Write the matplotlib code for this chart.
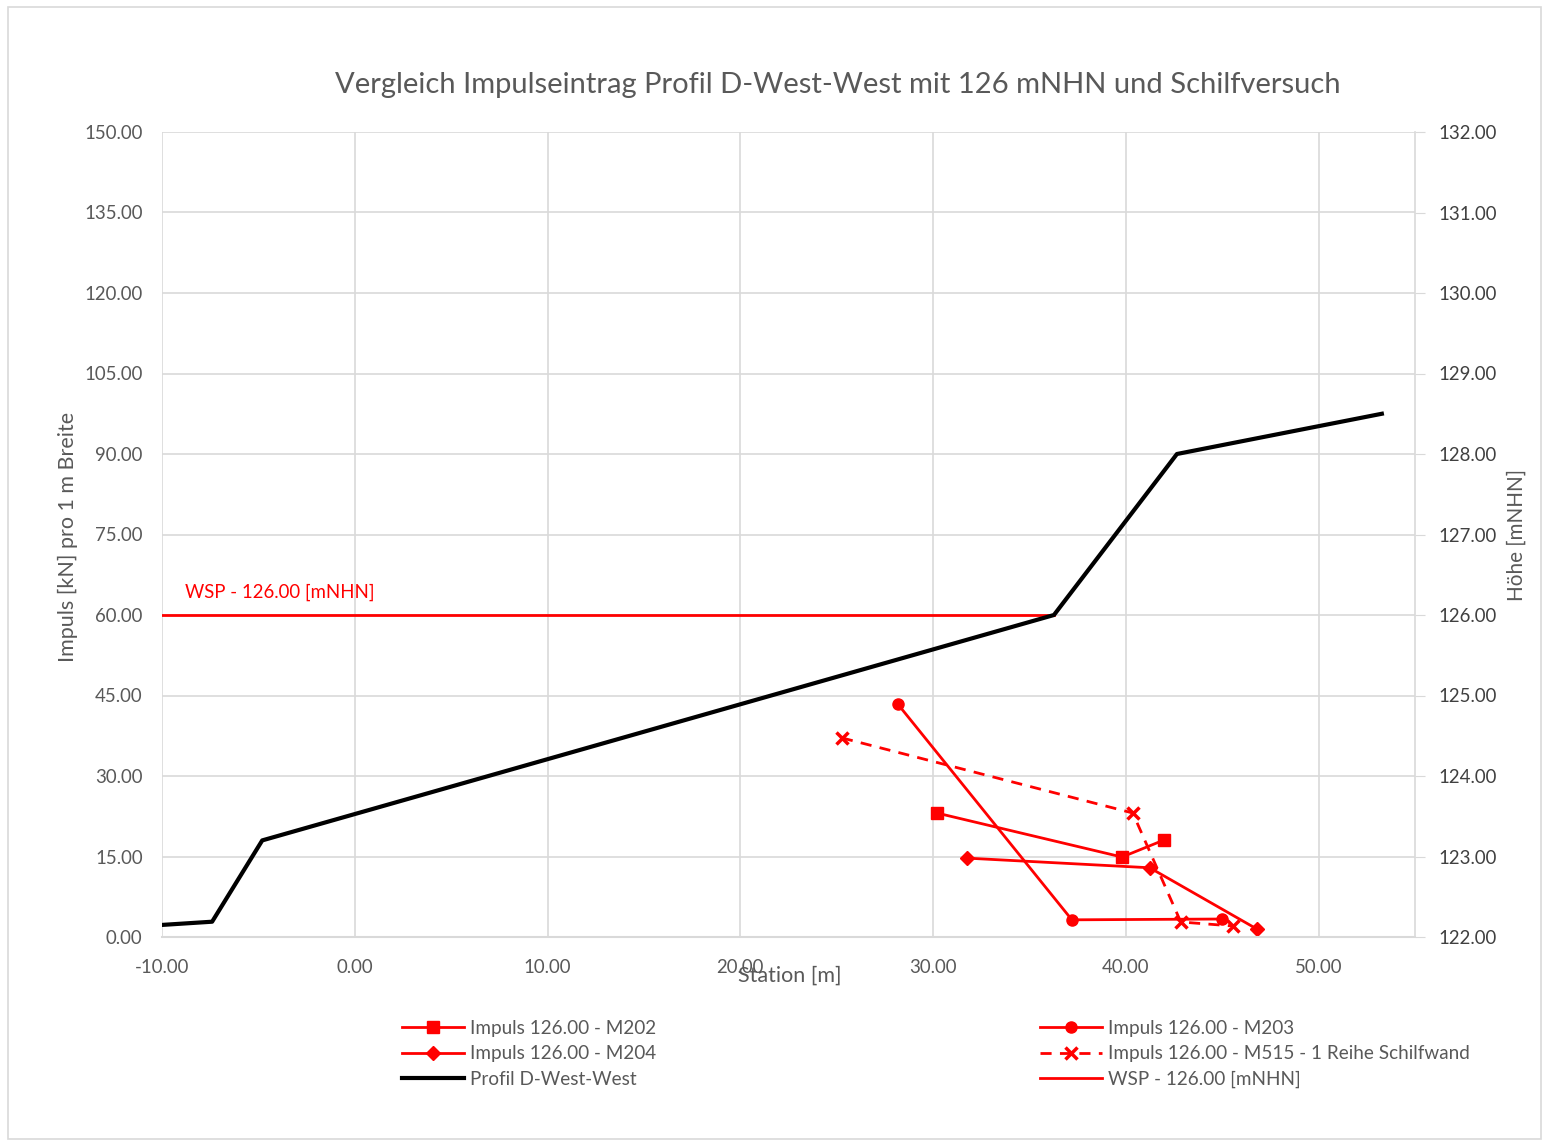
import matplotlib
matplotlib.use("Agg")
import matplotlib.pyplot as plt
from matplotlib.patches import Rectangle

plt.rcParams['font.family'] = ['Lato', 'DejaVu Sans']

# Profil D-West-West (Hoehe, rechte Achse)
profil_x = [-10.0, -7.4, -4.8, 36.27, 42.65, 53.28]
profil_y = [122.15, 122.19, 123.2, 126.0, 128.0, 128.5]

# Wasserspiegel
wsp_x = [-10.0, 36.27]
wsp_y = [126.0, 126.0]

# Impulse (linke Achse)
m202_x = [30.2, 39.8, 42.0]
m202_y = [23.1, 14.9, 18.1]
m203_x = [28.17, 37.2, 44.98]
m203_y = [43.4, 3.2, 3.35]
m204_x = [31.75, 41.24, 46.79]
m204_y = [14.7, 12.9, 1.5]
m515_x = [25.27, 40.36, 42.85, 45.55]
m515_y = [37.1, 23.1, 2.8, 2.05]

x_ticks = [-10, 0, 10, 20, 30, 40, 50]
y_ticks = [0, 15, 30, 45, 60, 75, 90, 105, 120, 135, 150]
y2_ticks = [122, 123, 124, 125, 126, 127, 128, 129, 130, 131, 132]

grey = '#595959'
red = '#ff0000'
gridc = '#d9d9d9'

fig = plt.figure(figsize=(15.49, 11.46), dpi=100)
fig.patches.append(Rectangle((8 / 1549, 1 - 1139 / 1146), 1533 / 1549, 1132 / 1146,
                             transform=fig.transFigure, fill=False,
                             edgecolor=gridc, linewidth=1.2))

ax = fig.add_axes([162 / 1549, 1 - 937 / 1146, 1253 / 1549, 805 / 1146])
ax2 = ax.twinx()

ax.set_xlim(-10, 55)
ax.set_ylim(0, 150)
ax2.set_ylim(122, 132)
ax.set_xticks(x_ticks)
ax.set_yticks(y_ticks)
ax2.set_yticks(y2_ticks)
ax.set_xticklabels([f"{v:.2f}" for v in x_ticks])
ax.set_yticklabels([f"{v:.2f}" for v in y_ticks])
ax2.set_yticklabels([f"{v:.2f}" for v in y2_ticks])

ax.grid(True, color=gridc, linewidth=1.2)
ax.set_axisbelow(True)
for a in (ax, ax2):
    for s in a.spines.values():
        s.set_visible(False)
ax2.spines['right'].set_visible(True)
ax2.spines['right'].set_color(gridc)
ax2.spines['right'].set_linewidth(1.2)
ax.spines['bottom'].set_visible(True)
ax.spines['bottom'].set_color(gridc)
ax.spines['bottom'].set_linewidth(1.5)

ax.tick_params(axis='x', length=0, pad=16, labelsize=13.4, labelcolor=grey)
ax.tick_params(axis='y', length=0, pad=14, labelsize=13.4, labelcolor=grey)
ax2.tick_params(axis='y', length=7, color=gridc, pad=10, labelsize=13.4, labelcolor='#404040')

ax.set_xlabel("Station [m]", fontsize=15.5, color=grey)
ax.xaxis.set_label_coords(0.501, -0.036)

l202, = ax.plot(m202_x, m202_y, color=red, lw=2, marker='s', ms=8, label="Impuls 126.00 - M202")
l203, = ax.plot(m203_x, m203_y, color=red, lw=2, marker='o', ms=8, label="Impuls 126.00 - M203")
l204, = ax.plot(m204_x, m204_y, color=red, lw=2, marker='D', ms=7, label="Impuls 126.00 - M204")
l515, = ax.plot(m515_x, m515_y, color=red, lw=2, ls=(0, (4, 3)), marker='x', ms=8, mew=2.5,
                label="Impuls 126.00 - M515 - 1 Reihe Schilfwand")

lwsp, = ax2.plot(wsp_x, wsp_y, color=red, lw=2, label="WSP - 126.00 [mNHN]")
lprof, = ax2.plot(profil_x, profil_y, color='black', lw=3, label="Profil D-West-West")

ax.text(-8.8, 64.3, "WSP - 126.00 [mNHN]", color=red, fontsize=13.4, va='center', ha='left')

fig.text(838 / 1549, 1 - 85 / 1146, "Vergleich Impulseintrag Profil D-West-West mit 126 mNHN und Schilfversuch",
         fontsize=21, color=grey, ha='center', va='center')
fig.text(68 / 1549, 1 - 537 / 1146, "Impuls [kN] pro 1 m Breite", rotation=90,
         fontsize=15.5, color=grey, ha='center', va='center')
fig.text(1517 / 1549, 1 - 535 / 1146, "Höhe [mNHN]", rotation=90,
         fontsize=14.9, color=grey, ha='center', va='center')

leg_kw = dict(frameon=False, fontsize=13.6, labelcolor=grey, handlelength=3.3,
              handletextpad=0.3, labelspacing=0.45, borderaxespad=0, borderpad=0)
fig.legend([l202, l204, lprof], [h.get_label() for h in (l202, l204, lprof)],
           loc='upper left', bbox_to_anchor=(402 / 1549, 1 - 1020 / 1146), **leg_kw)
fig.legend([l203, l515, lwsp], [h.get_label() for h in (l203, l515, lwsp)],
           loc='upper left', bbox_to_anchor=(1040 / 1549, 1 - 1020 / 1146), **leg_kw)

fig.savefig("out.png", dpi=100)
